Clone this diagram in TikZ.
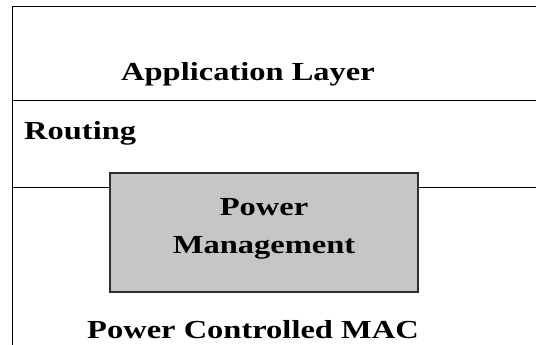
\documentclass[tikz,border=0pt]{standalone}
\usepackage{fontspec}
\setmainfont{Liberation Serif}[FakeStretch=1.25]
\usetikzlibrary{positioning}
\definecolor{cBoxF}{HTML}{C6C6C6}
\definecolor{cBoxD}{HTML}{2E2E2E}
\tikzset{
  frame/.style  = {black, line width=1pt},
  layer/.style  = {font=\fontsize{26}{38}\selectfont\bfseries, inner sep=0pt, align=center},
  pmbox/.style  = {draw=cBoxD, fill=cBoxF, line width=1.4pt, minimum width=308pt,
                   minimum height=119pt, inner sep=0pt},
}
\begin{document}
\begin{tikzpicture}[x=1pt, y=-1pt]
  \useasboundingbox (0,0) rectangle (536,345);
  % frame corners
  \coordinate (tl) at (12,7);
  \coordinate (tr) at (536,7);
  \coordinate (bl) at (12,345);
  \coordinate (ml) at (12,101);
  \coordinate (mr) at (536,101);
  \coordinate (ll) at (12,187);
  \coordinate (lr) at (536,187);
  \draw[frame] (tr) -- (tl) -- (bl);
  \draw[frame] (ml) -- (mr);
  % power management box
  \node[pmbox] (pm) at (264,232.5) {};
  \node[layer] (pmtext) at (264,229) {Power\\Management};
  \draw[frame] (ll) -- (ll -| pm.west);
  \draw[frame] (lr -| pm.east) -- (lr);
  % layer names
  \node[layer] (app) at (248,74) {Application Layer};
  \node[layer, anchor=west] (rout) at (24,133) {Routing};
  \node[layer] (mac) at (253,330) {Power Controlled MAC};
\end{tikzpicture}
\end{document}
